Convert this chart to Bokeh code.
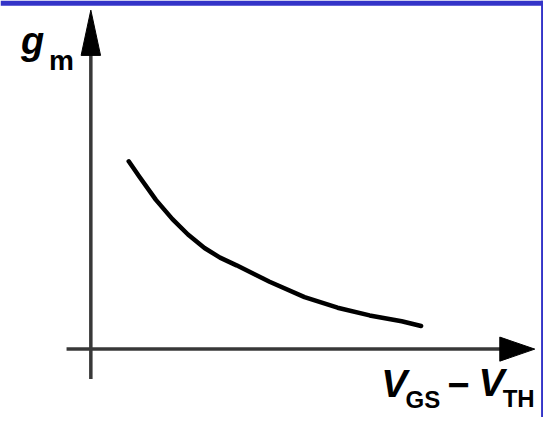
from bokeh.plotting import figure
from bokeh.models import Range1d, BoxAnnotation
from bokeh.core.properties import value
from bokeh.embed import file_html
from bokeh.resources import INLINE

# Curve data: overdrive voltage (VGS - VTH) vs transconductance gm (arbitrary units)
vov = [0.39, 0.50, 0.67, 0.84, 1.00, 1.17, 1.33, 1.50, 1.84, 2.20, 2.54, 2.87, 3.20, 3.40]
gm = [1.95, 1.79, 1.55, 1.35, 1.19, 1.05, 0.95, 0.87, 0.70, 0.54, 0.43, 0.35, 0.29, 0.24]

# Axis extents (data units)
X_START, X_TIP = -0.25, 4.57
Y_START, Y_TIP = -0.31, 3.52
XH_LEN, XH_HALF = 0.36, 0.125
YH_LEN, YH_HALF = 0.47, 0.10

FONT = "Liberation Sans"
AXIS_COLOR = "#383838"
BLUE = "#3434c8"

W, H = 543, 417
XR = (-0.93, 4.66)
YR = (-0.71, 3.62)
PX_PER_Y = H / (YR[1] - YR[0])

p = figure(width=W, height=H, x_range=Range1d(*XR), y_range=Range1d(*YR),
           output_backend="svg", toolbar_location=None, min_border=0,
           x_axis_location=None, y_axis_location=None,
           background_fill_color="white", border_fill_color="white")
p.grid.visible = False
p.outline_line_color = None

# frame border strips (blue)
p.add_layout(BoxAnnotation(bottom=3.565, fill_color=BLUE, fill_alpha=1, line_color=None, level="underlay"))
p.add_layout(BoxAnnotation(left=4.635, fill_color=BLUE, fill_alpha=1, line_color=None, level="underlay"))

# axes
p.segment(x0=[X_START, 0], y0=[0, Y_START], x1=[X_TIP - XH_LEN + 0.02, 0], y1=[0, Y_TIP - YH_LEN + 0.02],
          line_color=AXIS_COLOR, line_width=3.5)
p.patch([X_TIP, X_TIP - XH_LEN, X_TIP - XH_LEN], [0, XH_HALF, -XH_HALF], fill_color="black", line_color="black", line_width=1)
p.patch([0, -YH_HALF, YH_HALF], [Y_TIP, Y_TIP - YH_LEN, Y_TIP - YH_LEN], fill_color="black", line_color="black", line_width=1)

# curve
p.line(vov, gm, line_color="black", line_width=4.5, line_cap="round", line_join="round")

# labels (y given as baseline; compensate for the renderer's vertical anchoring)
def lab(x, y, t, size, style):
    yy = y + 0.35 * size / PX_PER_Y
    p.text(x=[x], y=[yy], text=[t], text_font=value(FONT), text_font_size=f"{size}px",
           text_font_style=style, text_color="black", text_baseline="alphabetic", text_align="left")

lab(-0.72, 3.06, "g", 38, "bold italic")
lab(-0.43, 2.90, "m", 28, "bold")
lab(2.99, -0.50, "V", 39, "bold italic")
lab(3.24, -0.61, "GS", 24, "bold")
lab(3.67, -0.51, "\u2212", 38, "bold")
lab(3.99, -0.49, "V", 39, "bold italic")
lab(4.24, -0.60, "TH", 24, "bold")

open("out.html", "w").write(file_html(p, INLINE))
